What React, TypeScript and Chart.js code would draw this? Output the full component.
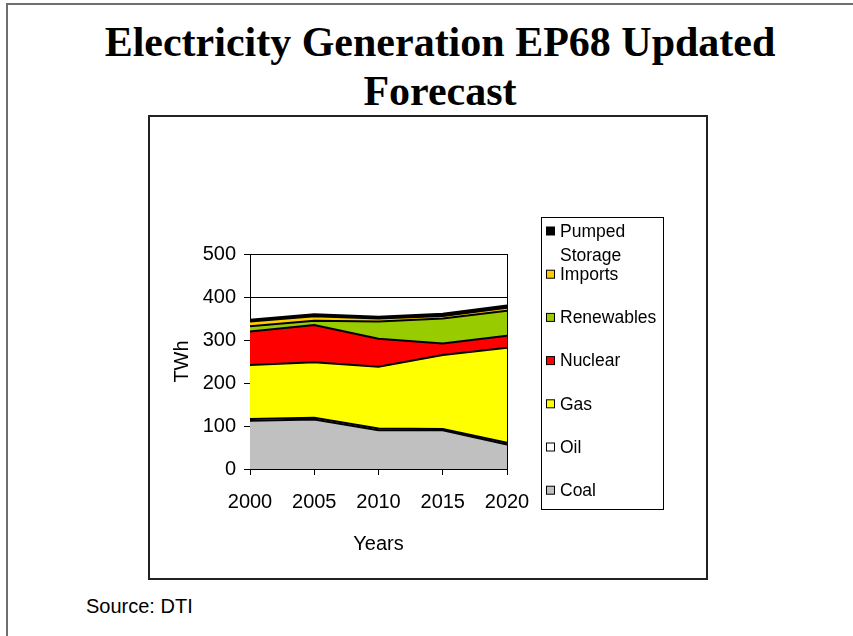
import React, { useEffect, useRef } from 'react';
import { Chart, registerables } from 'chart.js';

Chart.register(...registerables);

const years = ['2000', '2005', '2010', '2015', '2020'];
const coal = [112, 115, 90, 90, 57];
const oil = [4, 4, 4, 3, 4];
const gas = [126, 129, 144, 172, 221];
const nuclear = [78, 87, 65, 27, 28];
const renewables = [12, 10, 40, 58, 58];
const imports = [11, 10, 7, 6, 7];
const pumpedStorage = [4, 5, 4, 5, 5];
const yTicks = [0, 100, 200, 300, 400, 500];

const seriesNames = ['Coal', 'Oil', 'Gas', 'Nuclear', 'Renewables', 'Imports', 'Pumped Storage'];
const seriesValues = [coal, oil, gas, nuclear, renewables, imports, pumpedStorage];
const seriesColors = ['#C0C0C0', '#FFFFFF', '#FFFF00', '#FF0000', '#99CC00', '#FFCC00', '#000000'];

const FONT = '"Liberation Sans", Arial, sans-serif';

const boxLegend = {
  id: 'boxLegend',
  afterDraw(chart: any) {
    const ctx = chart.ctx as CanvasRenderingContext2D;
    const bx = 391.5, by = 100.5, bw = 122, bh = 292;
    ctx.save();
    ctx.strokeStyle = '#000';
    ctx.lineWidth = 1;
    ctx.strokeRect(bx, by, bw, bh);
    ctx.font = '17.5px ' + FONT;
    ctx.textBaseline = 'middle';
    ctx.textAlign = 'left';
    const ds = chart.data.datasets.slice().reverse();
    const textX = 410;
    const maxW = bw - (textX - bx) - 1;
    ds.forEach((d: any, i: number) => {
      const cy = 114 + i * 43.2;
      ctx.fillStyle = d.backgroundColor;
      ctx.fillRect(396.5, cy - 4, 8, 8);
      ctx.strokeStyle = '#000';
      ctx.strokeRect(396.5, cy - 4, 8, 8);
      const words = String(d.label).split(' ');
      const lines: string[] = [];
      let cur = '';
      words.forEach((w) => {
        const t = cur ? cur + ' ' + w : w;
        if (cur && ctx.measureText(t).width > maxW) {
          lines.push(cur);
          cur = w;
        } else cur = t;
      });
      if (cur) lines.push(cur);
      ctx.fillStyle = '#000';
      lines.forEach((ln, j) => ctx.fillText(ln, textX, cy + 1 + j * 24));
    });
    ctx.restore();
  },
};

export default function App() {
  const ref = useRef<HTMLCanvasElement>(null);
  useEffect(() => {
    if (!ref.current) return;
    const chart = new Chart(ref.current, {
      type: 'line',
      data: {
        labels: years,
        datasets: seriesNames.map((name, i) => ({
          label: name,
          data: seriesValues[i],
          backgroundColor: seriesColors[i],
          borderColor: '#000',
          borderWidth: 2,
          pointRadius: 0,
          pointHoverRadius: 0,
          tension: 0,
          fill: i === 0 ? 'origin' : '-1',
        })),
      },
      options: {
        animation: false,
        responsive: false,
        maintainAspectRatio: false,
        events: [],
        layout: { padding: { left: 0, top: 137, right: 199, bottom: 0 } },
        plugins: {
          legend: { display: false },
          tooltip: { enabled: false },
          filler: { drawTime: 'beforeDatasetsDraw' } as any,
        },
        scales: {
          x: {
            type: 'category',
            offset: false,
            grid: {
              color: (c: any) => (c.index === years.length - 1 ? '#000' : 'rgba(0,0,0,0)'),
              tickColor: '#000',
              tickLength: 6,
              lineWidth: 1,
            },
            border: { display: true, color: '#000', width: 1 },
            ticks: { color: '#000', font: { family: FONT, size: 20 }, padding: 15, maxRotation: 0, autoSkip: false },
            title: { display: true, text: 'Years', color: '#000', font: { family: FONT, size: 20 }, padding: { top: 0, bottom: 22 } },
            afterFit: (s: any) => { s.height = 109; },
          },
          y: {
            stacked: true,
            min: 0,
            max: 500,
            grid: { color: '#000', lineWidth: 1, tickLength: 6, tickColor: '#000' },
            border: { display: true, color: '#000', width: 1 },
            ticks: { color: '#000', font: { family: FONT, size: 20 }, padding: 8, stepSize: 100 },
            afterBuildTicks: (s: any) => { s.ticks = yTicks.map((v) => ({ value: v })); },
            title: { display: true, text: 'TWh', color: '#000', font: { family: FONT, size: 20 }, padding: { top: 20, bottom: 0 } },
            afterFit: (s: any) => { s.width = 100; },
          },
        },
      },
      plugins: [boxLegend],
    });
    return () => chart.destroy();
  }, []);

  return (
    <div style={{ position: 'fixed', left: 0, top: 0, width: 853, height: 636, background: '#fff', overflow: 'hidden' }}>
      <div style={{ position: 'absolute', left: 6, top: 3, width: 900, height: 700, border: '2px solid #6f6f6f' }} />
      <div
        style={{
          position: 'absolute', left: 0, top: 18, width: 880, textAlign: 'center',
          fontFamily: '"Liberation Serif", "Times New Roman", serif', fontWeight: 'bold',
          fontSize: 42, lineHeight: '49px', color: '#000',
        }}
      >
        Electricity Generation EP68 Updated
        <br />
        Forecast
      </div>
      <div style={{ position: 'absolute', left: 148, top: 115, width: 556, height: 461, border: '2px solid #222' }} />
      <canvas ref={ref} width={556} height={461} style={{ position: 'absolute', left: 150, top: 117, width: 556, height: 461 }} />
      <div style={{ position: 'absolute', left: 86, top: 596, fontFamily: FONT, fontSize: 20, lineHeight: '20px', color: '#000', whiteSpace: 'nowrap' }}>
        Source: DTI
      </div>
    </div>
  );
}
